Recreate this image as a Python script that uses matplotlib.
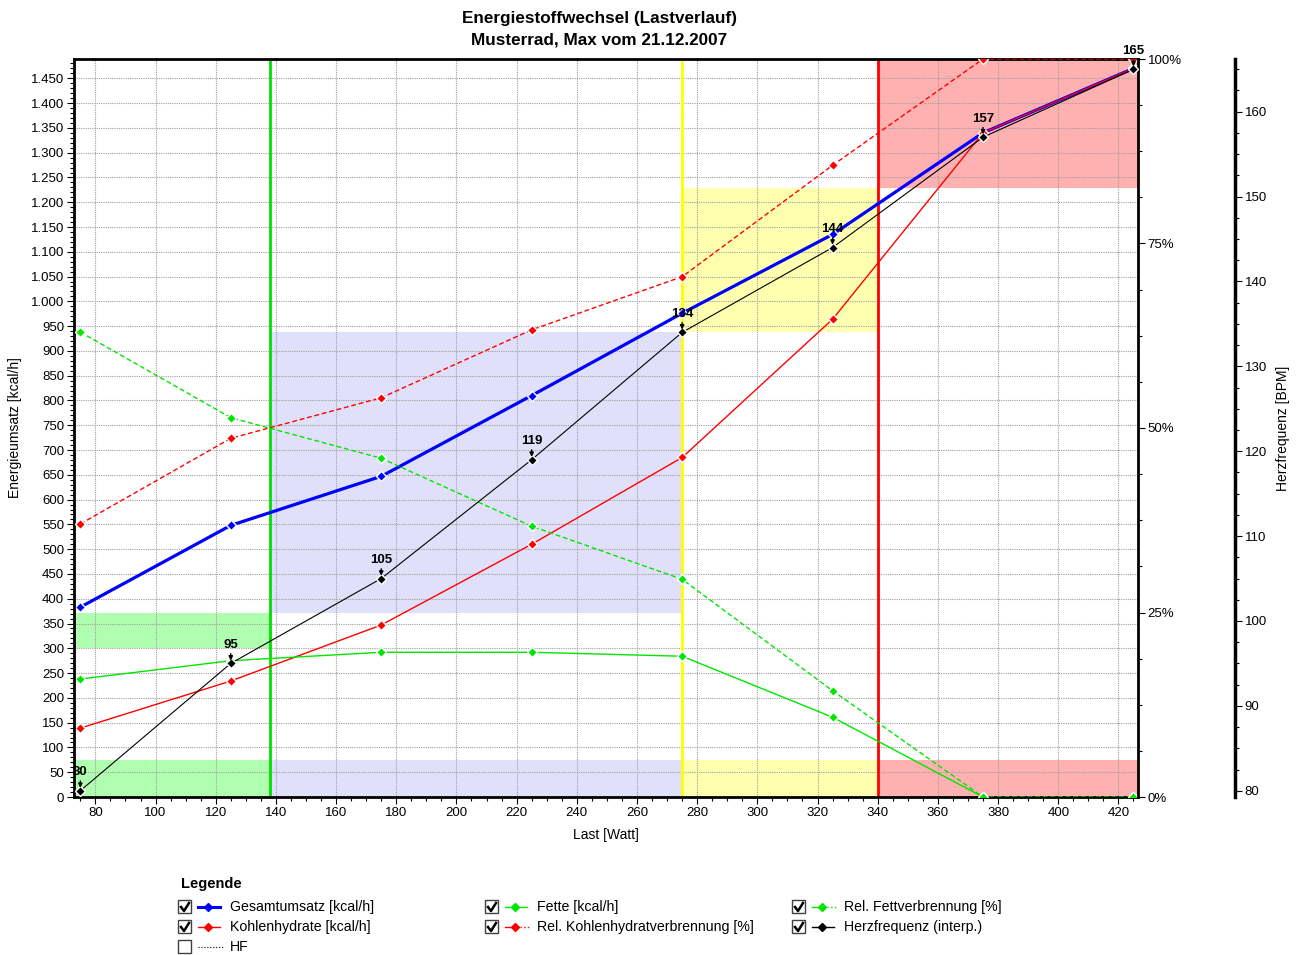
import matplotlib
matplotlib.use("Agg")
from matplotlib import pyplot as plt
from matplotlib.ticker import MultipleLocator, FuncFormatter, FixedLocator
from matplotlib.patches import Rectangle

plt.rcParams['font.family'] = ['Liberation Sans', 'DejaVu Sans']

# Messwerte je Laststufe
last = [75, 125, 175, 225, 275, 325, 375, 425]
gesamt = [383, 548, 647, 810, 976, 1135, 1340, 1470]
kohlenhydrate = [139, 234, 347, 510, 685, 964, 1340, 1470]
fette = [238, 275, 292, 292, 284, 161, 0, 0]
rel_kh = [37.0, 48.6, 54.1, 63.3, 70.5, 85.6, 100, 100]
rel_fett = [63.0, 51.4, 45.9, 36.7, 29.5, 14.4, 0, 0]
hf = [80, 95, 105, 119, 134, 144, 157, 165]

# Trainingsbereiche: Lastgrenzen und HF-Bereiche
zone_last = [72.9, 138, 275, 340, 426.5]
zone_hf = [(96.8, 100.9), (100.9, 134.0), (134.0, 151.0), (151.0, 166.3)]
zone_fill = ['#b0ffb0', '#e0e0fa', '#ffffb0', '#ffb0b0']
zone_line = ['#00e000', '#ffff00', '#ff0000']

BLUE, RED, GREEN = '#0000ff', '#ff0000', '#00e600'
W, H = 1299, 955

fig = plt.figure(figsize=(W / 100, H / 100), dpi=100)
ax = fig.add_axes([74 / W, 1 - 797 / H, 1064 / W, 738 / H])
ax_pct = ax.twinx()
ax_hr = ax.twinx()

ax.set_xlim(zone_last[0], zone_last[-1])
ax.set_ylim(0, 1489)
ax_pct.set_ylim(0, 100)
ax_hr.set_ylim(79.26, 166.21)

# Bereiche
for i, (h0, h1) in enumerate(zone_hf):
    x0, x1 = zone_last[i], zone_last[i + 1]
    ax.add_patch(Rectangle((x0, h0), x1 - x0, h1 - h0, transform=ax_hr.transData,
                           facecolor=zone_fill[i], edgecolor='none', zorder=0.5))
    ax.add_patch(Rectangle((x0, 0), x1 - x0, 0.05, transform=ax.get_xaxis_transform(),
                           facecolor=zone_fill[i], edgecolor='none', zorder=0.5))
for x, c in zip(zone_last[1:4], zone_line):
    ax.axvline(x, color=c, lw=2, zorder=1.6)

ax.grid(True, which='major', color='#a0a0a0', linestyle=(0, (1, 1)), lw=0.8)

mk = dict(marker='D', ms=5, mec='white', mew=1)
ax.plot(last, gesamt, color=BLUE, lw=2.3, zorder=2.2, **mk)
ax.plot(last, kohlenhydrate, color=RED, lw=1, zorder=2.5, **mk)
ax.plot(last, fette, color=GREEN, lw=1, zorder=2.5, **mk)
dash = (0, (3.5, 2))
ax_pct.plot(last, rel_kh, color=RED, lw=1, ls=dash, **mk)
ax_pct.plot(last, rel_fett, color=GREEN, lw=1, ls=dash, **mk)
ax_hr.plot(last, hf, color='black', lw=0.8, **mk)

for w, h in zip(last, hf):
    ax_hr.annotate(str(h), xy=(w, h), xytext=(0, 9), textcoords='offset points',
                   ha='center', va='bottom', fontsize=9.5, fontweight='bold',
                   annotation_clip=False,
                   arrowprops=dict(arrowstyle='-|>', color='black', lw=1,
                                   shrinkA=0, shrinkB=2, mutation_scale=6))

# Achsen
ax.xaxis.set_major_locator(FixedLocator(range(80, 421, 20)))
ax.xaxis.set_minor_locator(MultipleLocator(5))
ax.yaxis.set_major_locator(MultipleLocator(50))
ax.yaxis.set_minor_locator(MultipleLocator(10))
ax.yaxis.set_major_formatter(FuncFormatter(lambda v, _: f"{int(v):,}".replace(",", ".")))
ax_pct.yaxis.set_major_locator(MultipleLocator(25))
ax_pct.yaxis.set_minor_locator(MultipleLocator(6.25))
ax_pct.yaxis.set_major_formatter(FuncFormatter(lambda v, _: f"{v:.0f}%"))
ax_hr.yaxis.set_major_locator(MultipleLocator(10))
ax_hr.yaxis.set_minor_locator(MultipleLocator(2.5))

for a in (ax, ax_pct, ax_hr):
    a.tick_params(which='major', length=5, width=0.8, labelsize=9.5, pad=2)
    a.tick_params(which='minor', length=3, width=0.8)
for s in ax.spines.values():
    s.set_linewidth(2)
ax.spines['right'].set_visible(False)
for k in ('left', 'top', 'bottom'):
    ax_pct.spines[k].set_visible(False)
    ax_hr.spines[k].set_visible(False)
ax_pct.spines['right'].set_linewidth(2)
ax_hr.spines['right'].set_position(('axes', 1.0912))
ax_hr.spines['right'].set_linewidth(2.5)

ax.set_ylabel("Energieumsatz [kcal/h]", fontsize=10)
ax.yaxis.set_label_coords(-0.049, 0.5)
ax.set_xlabel("Last [Watt]", fontsize=10)
ax.xaxis.set_label_coords(0.5, -0.042)
ax_hr.set_ylabel("Herzfrequenz [BPM]", fontsize=10)
ax_hr.yaxis.set_label_coords(1.1297, 0.5)

fig.text(599 / W, 1 - 18 / H, "Energiestoffwechsel (Lastverlauf)", ha='center', va='center',
         fontsize=12.3, fontweight='bold')
fig.text(599 / W, 1 - 40 / H, "Musterrad, Max vom 21.12.2007", ha='center', va='center',
         fontsize=12.3, fontweight='bold')

# Legende
leg = fig.add_axes([0, 0, 1, 1])
leg.set_xlim(0, W)
leg.set_ylim(H, 0)
leg.axis('off')
leg.text(181, 884, "Legende", fontsize=10.5, fontweight='bold', va='center')

entries = [
    ("Gesamtumsatz [kcal/h]", BLUE, '-', 2.2, True, 0, 0),
    ("Kohlenhydrate [kcal/h]", RED, '-', 1, True, 0, 1),
    ("HF", 'black', ':', 0.8, False, 0, 2),
    ("Fette [kcal/h]", GREEN, '--', 1, True, 1, 0),
    ("Rel. Kohlenhydratverbrennung [%]", RED, ':', 1, True, 1, 1),
    ("Rel. Fettverbrennung [%]", GREEN, ':', 1, True, 2, 0),
    ("Herzfrequenz (interp.)", 'black', '--', 1, True, 2, 1),
]
col_x = [178, 485, 792]
row_y = [907, 927, 947]
for label, color, ls, lw, checked, col, row in entries:
    x, y = col_x[col], row_y[row]
    leg.add_patch(Rectangle((x, y - 7), 13, 13, facecolor='white', edgecolor='#404040', lw=1))
    if checked:
        leg.plot([x + 3, x + 6, x + 11], [y, y + 4, y - 4], color='black', lw=1.8)
    if label == "HF":
        leg.plot([x + 20, x + 46], [y, y], color='black', lw=0.8, ls=ls)
    else:
        leg.plot([x + 20, x + 26], [y, y], color=color, lw=lw)
        if ls == ':':
            leg.plot([x + 35, x + 46], [y, y], color=color, lw=lw, ls=':')
        else:
            leg.plot([x + 35, x + 42], [y, y], color=color, lw=lw)
        leg.plot([x + 30.5], [y], marker='D', ms=4, color=color, mec=color)
    leg.text(x + 52, y, label, fontsize=10.2, va='center')

fig.savefig("out.png", dpi=100)
